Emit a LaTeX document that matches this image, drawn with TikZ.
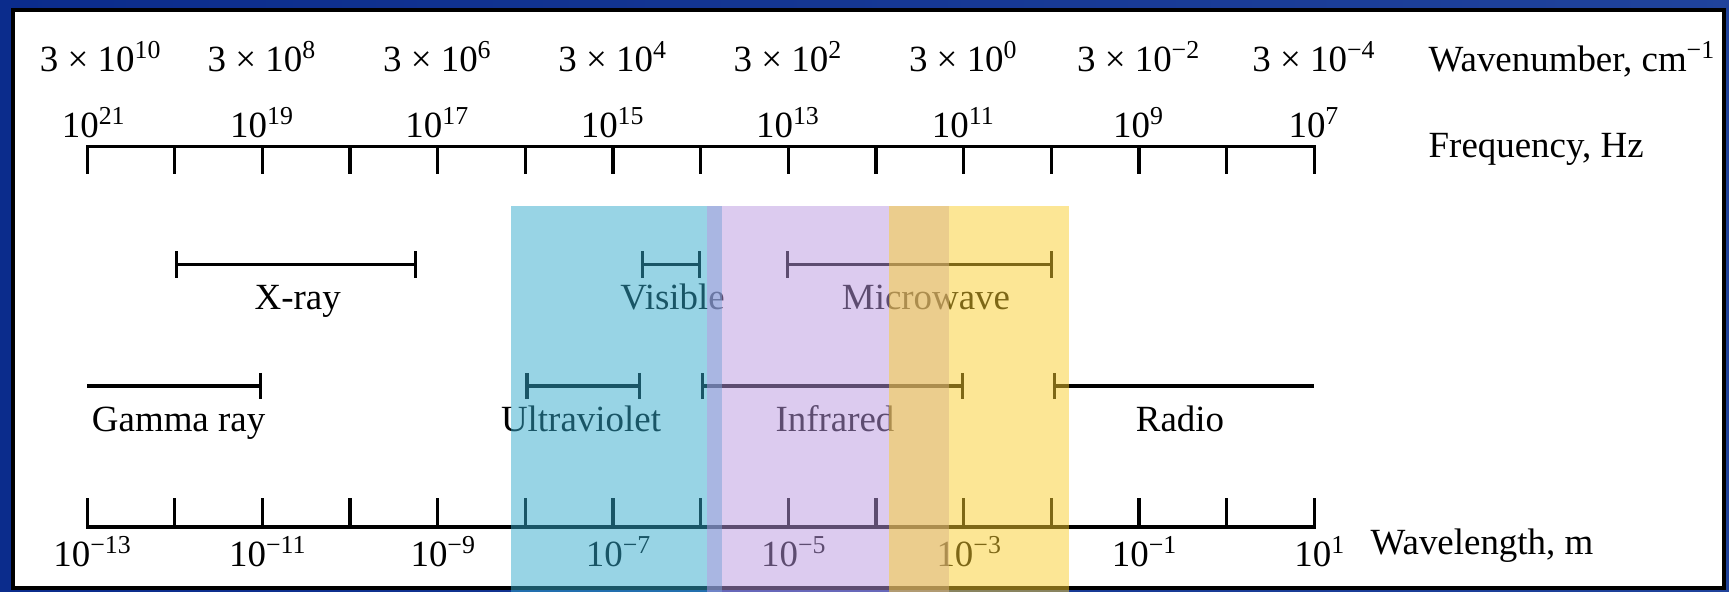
\documentclass[tikz,border=0pt]{standalone}
\usepackage{fontspec}
\setmainfont{Liberation Serif}
\usetikzlibrary{arrows.meta}
\definecolor{slideblue}{HTML}{0B2C8C}
\definecolor{slidelight}{HTML}{5078BE}
\definecolor{uvcyan}{HTML}{33ABCD}
\definecolor{irlilac}{HTML}{BB99E1}
\definecolor{mwgold}{HTML}{FBCF2D}
\tikzset{
  axis/.style={line width=0.9pt},
  cap/.tip={Bar[width=7.5pt,line width=0.9pt]},
  band/.style={line width=0.9pt},
  lbl/.style={font=\fontsize{10.5}{12}\selectfont, inner sep=0pt},
}
\begin{document}
\begin{tikzpicture}[x=0.01cm,y=-0.01cm]
  \useasboundingbox (0,0) rectangle (1729,592);
  \shade[left color=slideblue, middle color=slidelight, right color=slideblue!70!slidelight] (0,0) rectangle (1729,592);
  \draw[line width=1.1pt, fill=white] (13,10) rectangle (1724,588);

  \draw[axis] (87.1,174) |- (1314.4,146.7) -- (1314.4,174);
  \foreach \i in {1,...,13} \draw[axis] (87.1+87.66*\i,146.7) -- ++(0,27.3);
  \draw[axis] (87.1,498.4) |- (1314.4,527) -- (1314.4,498.4);
  \foreach \i in {1,...,13} \draw[axis] (87.1+87.66*\i,527) -- ++(0,-28.6);

  \foreach \i/\e/\f/\w/\s in {0/10/21/−13/14, 1/8/19/−11/0, 2/6/17/−9/0, 3/4/15/−7/0, 4/2/13/−5/0, 5/0/11/−3/0, 6/−2/9/−1/0, 7/−4/7/1/0} {
    \node[lbl, anchor=base] (wn\i) at (87.1+175.32*\i+\s,72) {3 × 10\textsuperscript{\e}};
    \node[lbl, anchor=base] (fq\i) at (87.1+175.32*\i+0.5*\s,138) {10\textsuperscript{\f}};
    \node[lbl, anchor=base] (wl\i) at (93+175.32*\i,567) {10\textsuperscript{\w}};
  }
  \node[lbl, anchor=base west] (wnname) at (1428,72) {Wavenumber, cm\textsuperscript{−1}};
  \node[lbl, anchor=base west] (fqname) at (1428,158) {Frequency, Hz};
  \node[lbl, anchor=base west] (wlname) at (1370,555) {Wavelength, m};

  \draw[band, cap-cap] (175.3,264.6) -- (416.8,264.6);
  \node[lbl, anchor=base] (xray) at (297.7,310) {X-ray};
  \draw[band, cap-cap] (640.7,264.6) -- (701.3,264.6);
  \node[lbl, anchor=base] (visible) at (672.6,310) {Visible};
  \draw[band, cap-cap] (786.2,264.6) -- (1053,264.6);
  \node[lbl, anchor=base] (microwave) at (926,310) {Microwave};
  \draw[band, -cap] (87.1,386) -- (262.4,386);
  \node[lbl, anchor=base] (gamma) at (178.6,432) {Gamma ray};
  \draw[band, cap-cap] (525.4,386) -- (640.7,386);
  \node[lbl, anchor=base] (uv) at (581,432) {Ultraviolet};
  \draw[band, cap-cap] (701.3,386) -- (963.7,386);
  \node[lbl, anchor=base] (ir) at (835,432) {Infrared};
  \draw[band, cap-] (1053,386) -- (1314.4,386);
  \node[lbl, anchor=base] (radio) at (1180,432) {Radio};

  \fill[uvcyan, opacity=0.5] (510.5,206) rectangle (722.3,592);
  \fill[irlilac, opacity=0.5] (706.8,206) rectangle (948.5,592);
  \fill[mwgold, opacity=0.5] (888.8,206) rectangle (1069,592);
\end{tikzpicture}
\end{document}
